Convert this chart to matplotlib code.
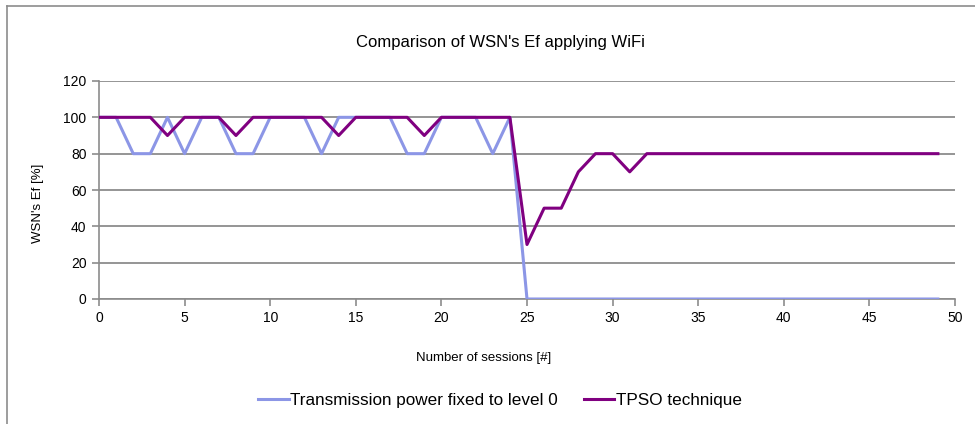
import matplotlib
matplotlib.use("Agg")
import matplotlib.pyplot as plt
from matplotlib.lines import Line2D

plt.rcParams['font.family'] = ['Liberation Sans', 'DejaVu Sans']

# Datos
sesiones = list(range(50))
potencia_fija = [100, 100, 80, 80, 100, 80, 100, 100, 80, 80,
                 100, 100, 100, 80, 100, 100, 100, 100, 80, 80,
                 100, 100, 100, 80, 100] + [0] * 25
tpso = [100, 100, 100, 100, 90, 100, 100, 100, 90, 100,
        100, 100, 100, 100, 90, 100, 100, 100, 100, 90,
        100, 100, 100, 100, 100, 30, 50, 50, 70, 80,
        80, 70] + [80] * 18
x_ticks = [0, 5, 10, 15, 20, 25, 30, 35, 40, 45, 50]
y_ticks = [0, 20, 40, 60, 80, 100, 120]

W, H = 975, 424
fig = plt.figure(figsize=(W / 100, H / 100), dpi=100)
ax = fig.add_axes([99 / W, 1 - 299 / H, (955 - 99) / W, (299 - 81) / H])

gris = '#8c8c8c'
ax.plot(sesiones, potencia_fija, color='#8c96e6', lw=2.2,
        label='Transmission power fixed to level 0', zorder=3)
ax.plot(sesiones, tpso, color='#800080', lw=2.2,
        label='TPSO technique', zorder=4)

ax.set_xlim(0, 50)
ax.set_ylim(0, 120)
ax.set_xticks(x_ticks)
ax.set_yticks(y_ticks)
ax.grid(axis='y', color=gris, lw=1.3)
ax.set_axisbelow(True)
for s in ['top', 'right']:
    ax.spines[s].set_visible(False)
for s in ['left', 'bottom']:
    ax.spines[s].set_color(gris)
    ax.spines[s].set_linewidth(1.2)
ax.tick_params(axis='both', direction='out', length=5, width=1.2,
               color=gris, labelsize=10, pad=4)

# Titulos y etiquetas
fig.text(500 / W, 1 - 42 / H, "Comparison of WSN's Ef applying WiFi",
         ha='center', va='center', fontsize=12)
fig.text(484 / W, 1 - 358 / H, 'Number of sessions [#]',
         ha='center', va='center', fontsize=9.5)
fig.text(38 / W, 1 - 203 / H, "WSN's Ef [%]", rotation=90,
         ha='center', va='center', fontsize=9.5)

fig.legend(loc='center', bbox_to_anchor=(500 / W, 1 - 400 / H), ncol=2,
           frameon=False, fontsize=12.3, handlelength=1.8,
           handletextpad=0.1, columnspacing=1.5)

# Borde del area del grafico
fig.add_artist(Line2D([7 / W, 7 / W], [0, 1 - 6 / H], color=gris, lw=1.2,
                      transform=fig.transFigure))
fig.add_artist(Line2D([7 / W, 1], [1 - 6 / H, 1 - 6 / H], color=gris, lw=1.2,
                      transform=fig.transFigure))

fig.savefig('out.png', dpi=100)
